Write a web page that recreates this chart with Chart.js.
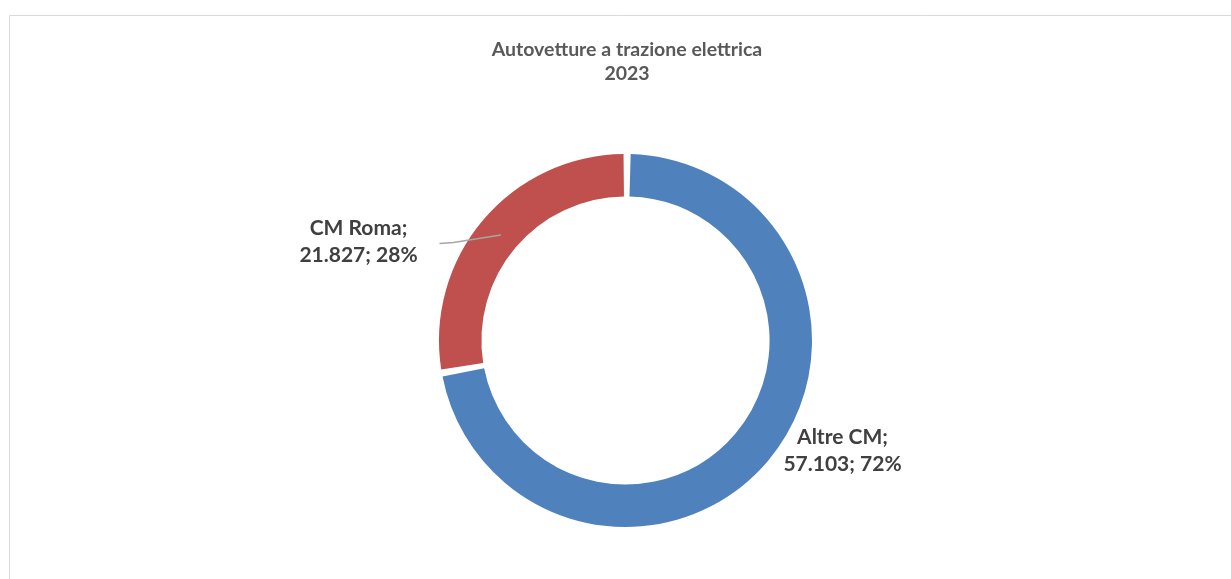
<!DOCTYPE html>
<html lang="it">
<head>
  <meta charset="UTF-8">
  <title>Autovetture a trazione elettrica 2023</title>
  <script src="https://cdn.jsdelivr.net/npm/chart.js"></script>
  <style>
    html, body { margin:0; padding:0; background:#fff; }
    #wrap { width:1231px; height:579px; position:relative; }
  </style>
</head>
<body>
  <div id="wrap"><canvas id="grafico"></canvas></div>

  <script>
    /* ---------- dati ---------- */
    const categorie = ['Altre CM', 'CM Roma'];
    const valori    = [57103, 21827];
    const etichette = ['57.103', '21.827'];
    const percentuali = ['72%', '28%'];
    const colori    = ['#4F81BD', '#C0504D'];
    const titolo    = ['Autovetture a trazione elettrica', '2023'];

    const FONT = 'Lato, "Open Sans", sans-serif';

    /* cornice + titolo */
    const sfondo = {
      id: 'sfondo',
      beforeDraw(chart) {
        const c = chart.ctx;
        c.save();
        c.strokeStyle = '#d9d9d9';
        c.lineWidth = 1;
        c.beginPath();
        c.moveTo(9.5, 600); c.lineTo(9.5, 15.5); c.lineTo(1240, 15.5);
        c.stroke();
        c.fillStyle = '#595959';
        c.font = 'bold 19.5px ' + FONT;
        c.textAlign = 'center';
        c.textBaseline = 'middle';
        c.fillText(titolo[0], 627, 50);
        c.fillText(titolo[1], 627, 74);
        c.restore();
      }
    };

    /* etichette dati con linea guida */
    const offsetEtichette = [
      { dx: 217, dy: 110, leader: false },
      { dx: -267, dy: -99, leader: true }
    ];
    const etichetteDati = {
      id: 'etichetteDati',
      afterDraw(chart) {
        const c = chart.ctx;
        const meta = chart.getDatasetMeta(0);
        c.save();
        meta.data.forEach((arc, i) => {
          const { x, y, startAngle, endAngle, innerRadius, outerRadius } =
            arc.getProps(['x','y','startAngle','endAngle','innerRadius','outerRadius'], true);
          const o = offsetEtichette[i];
          const lx = x + o.dx, ly = y + o.dy;
          if (o.leader) {
            const mid = (startAngle + endAngle) / 2;
            const r = (innerRadius + outerRadius) / 2;
            c.strokeStyle = '#a6a6a6';
            c.lineWidth = 1.5;
            c.beginPath();
            c.moveTo(lx + 81, ly + 2);
            c.lineTo(lx + 95, ly + 1);
            c.lineTo(x + r * Math.cos(mid), y + r * Math.sin(mid));
            c.stroke();
          }
          c.fillStyle = '#404040';
          c.font = 'bold 21px ' + FONT;
          c.textAlign = 'center';
          c.textBaseline = 'middle';
          c.fillText(categorie[i] + ';', lx, ly - 13);
          c.fillText(etichette[i] + '; ' + percentuali[i], lx, ly + 14);
        });
        c.restore();
      }
    };

    new Chart(document.getElementById('grafico'), {
      type: 'doughnut',
      data: {
        labels: categorie,
        datasets: [{
          data: valori,
          backgroundColor: colori,
          borderWidth: 0,
          spacing: 4
        }]
      },
      options: {
        responsive: true,
        maintainAspectRatio: false,
        animation: false,
        cutout: '77%',
        layout: { padding: { top: 154, bottom: 52, left: 200, right: 180 } },
        plugins: {
          legend: { display: false },
          title: { display: false },
          tooltip: { enabled: false }
        }
      },
      plugins: [sfondo, etichetteDati]
    });
  </script>
</body>
</html>
